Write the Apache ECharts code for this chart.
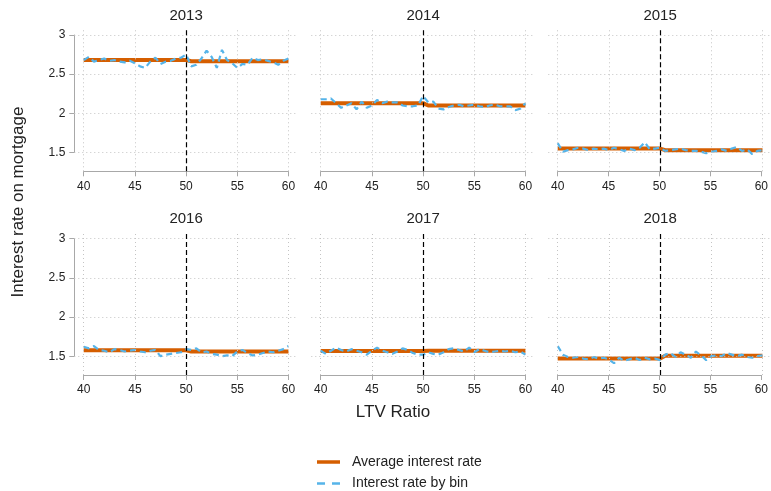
<!DOCTYPE html>
<html>
<head>
<meta charset="utf-8">
<script src="https://cdn.jsdelivr.net/npm/echarts@6/dist/echarts.min.js"></script>
<style>
html,body{margin:0;padding:0;background:#fff;}
#chart{width:771px;height:491px;}
</style>
</head>
<body>
<div id="chart"></div>
<script>
// ---------- data ----------
const years = ['2013', '2014', '2015', '2016', '2017', '2018'];
const bins = [40, 40.5, 41, 41.5, 42, 42.5, 43, 43.5, 44, 44.5, 45, 45.5, 46, 46.5, 47, 47.5, 48, 48.5, 49, 49.5,
              50, 50.5, 51, 51.5, 52, 52.5, 53, 53.5, 54, 54.5, 55, 55.5, 56, 56.5, 57, 57.5, 58, 58.5, 59, 59.5, 60];
const cutoff = 50;
const xTicks = [40, 45, 50, 55, 60];
const yTicks = [1.5, 2, 2.5, 3];
const avgLeft  = [2.68, 2.13, 1.55, 1.575, 1.565, 1.47];
const avgRight = [2.665, 2.10, 1.53, 1.56, 1.57, 1.505];
const rate2013 = [2.68, 2.72, 2.66, 2.68, 2.70, 2.67, 2.68, 2.66, 2.65, 2.67, 2.64, 2.60, 2.58, 2.66, 2.71, 2.63, 2.66, 2.67, 2.70, 2.71,
                  2.75, 2.60, 2.62, 2.70, 2.80, 2.72, 2.58, 2.81, 2.68, 2.64, 2.58, 2.63, 2.62, 2.71, 2.68, 2.69, 2.67, 2.65, 2.62, 2.67, 2.70];
const rate2014 = [2.18, 2.18, 2.19, 2.13, 2.07, 2.10, 2.13, 2.05, 2.15, 2.07, 2.10, 2.17, 2.13, 2.15, 2.14, 2.14, 2.10, 2.09, 2.09, 2.10,
                  2.22, 2.14, 2.15, 2.06, 2.05, 2.08, 2.10, 2.11, 2.09, 2.10, 2.11, 2.09, 2.08, 2.10, 2.11, 2.09, 2.09, 2.09, 2.04, 2.06, 2.13];
const rate2015 = [1.62, 1.51, 1.53, 1.54, 1.56, 1.55, 1.53, 1.55, 1.54, 1.55, 1.53, 1.56, 1.54, 1.52, 1.55, 1.53, 1.56, 1.63, 1.54, 1.55,
                  1.56, 1.52, 1.53, 1.54, 1.55, 1.53, 1.52, 1.52, 1.51, 1.49, 1.51, 1.52, 1.54, 1.52, 1.55, 1.57, 1.52, 1.54, 1.48, 1.52, 1.53];
const rate2016 = [1.62, 1.60, 1.63, 1.58, 1.57, 1.55, 1.59, 1.58, 1.56, 1.57, 1.58, 1.56, 1.55, 1.57, 1.58, 1.50, 1.52, 1.53, 1.54, 1.55,
                  1.59, 1.58, 1.60, 1.55, 1.56, 1.53, 1.52, 1.50, 1.51, 1.50, 1.56, 1.58, 1.54, 1.51, 1.52, 1.54, 1.56, 1.55, 1.57, 1.59, 1.63];
const rate2017 = [1.57, 1.53, 1.57, 1.61, 1.58, 1.56, 1.59, 1.57, 1.55, 1.52, 1.57, 1.61, 1.57, 1.55, 1.53, 1.56, 1.60, 1.58, 1.54, 1.52,
                  1.52, 1.55, 1.53, 1.52, 1.55, 1.59, 1.60, 1.58, 1.56, 1.61, 1.55, 1.59, 1.57, 1.55, 1.56, 1.57, 1.56, 1.57, 1.55, 1.56, 1.52];
const rate2018 = [1.63, 1.52, 1.49, 1.48, 1.49, 1.47, 1.46, 1.49, 1.47, 1.48, 1.46, 1.41, 1.48, 1.44, 1.46, 1.48, 1.45, 1.48, 1.46, 1.47,
                  1.45, 1.52, 1.54, 1.49, 1.55, 1.52, 1.48, 1.56, 1.51, 1.45, 1.50, 1.51, 1.50, 1.54, 1.52, 1.50, 1.52, 1.49, 1.48, 1.50, 1.51];
const rates = [rate2013, rate2014, rate2015, rate2016, rate2017, rate2018];

// ---------- layout ----------
const FONT = "'Liberation Sans', Arial, Helvetica, sans-serif";
const ORANGE = '#D55E00', BLUE = '#56B4E9';
const lefts = [83.7, 320.7, 557.7];
const tops = [35, 238.7];
const W = 204.8, H = 117.5;
const padL = 9.4, padR = 8, padT = 5, padB = 18.8;
const xMin = 40, xMax = 60, yMin = 1.5, yMax = 3;

const grid = [], xAxis = [], yAxis = [], series = [], title = [];
years.forEach((yr, p) => {
  const r = Math.floor(p / 3), c = p % 3;
  const L = lefts[c], T = tops[r];
  const outer = grid.length;
  grid.push({left: L - padL, top: T - padT, width: W + padL + padR, height: H + padT + padB});
  const inner = grid.length;
  grid.push({left: L, top: T, width: W, height: H});
  const xs = (xMax - xMin) / W, ys = (yMax - yMin) / H;
  xAxis.push({type: 'value', gridIndex: outer, min: xMin - padL * xs, max: xMax + padR * xs, show: false});
  yAxis.push({type: 'value', gridIndex: outer, min: yMin - padB * ys, max: yMax + padT * ys, show: false});
  xAxis.push({
    type: 'value', gridIndex: inner, min: xMin, max: xMax, interval: 5, offset: padB,
    axisLine: {show: true, lineStyle: {color: '#a8a8a8', width: 1}},
    axisTick: {show: true, length: 5, lineStyle: {color: '#a8a8a8'}},
    splitLine: {show: false},
    axisLabel: {fontSize: 12, color: '#222', fontFamily: FONT, margin: 9}
  });
  yAxis.push({
    type: 'value', gridIndex: inner, min: yMin, max: yMax, interval: 0.5, offset: padL, show: c === 0,
    axisLine: {show: true, lineStyle: {color: '#a8a8a8', width: 1}},
    axisTick: {show: true, length: 5, lineStyle: {color: '#a8a8a8'}},
    splitLine: {show: false},
    axisLabel: {fontSize: 12, color: '#222', fontFamily: FONT, margin: 9}
  });
  const ax = outer;
  const blueData = bins.map((x, i) => [x, rates[p][i]]);
  const avgData = bins.map(x => [x, x <= cutoff ? avgLeft[p] : avgRight[p]]);
  series.push({
    name: 'grid' + p, type: 'line', xAxisIndex: ax, yAxisIndex: ax, data: blueData,
    symbol: 'none', lineStyle: {opacity: 0, width: 0}, silent: true, z: 1, clip: false,
    markLine: {
      silent: true, symbol: 'none', animation: false, label: {show: false},
      lineStyle: {type: [1, 3], color: '#c4c4c4', width: 1},
      data: [
        ...xTicks.map(v => ({xAxis: v})),
        ...yTicks.map(v => ({yAxis: v})),
        {xAxis: cutoff, lineStyle: {type: [5, 3], color: '#000', width: 1.2}}
      ]
    }
  });
  series.push({
    name: 'Average interest rate', type: 'line', xAxisIndex: ax, yAxisIndex: ax, data: avgData,
    symbol: 'none', clip: false, z: 2, animation: false,
    lineStyle: {color: ORANGE, width: 4}, itemStyle: {color: ORANGE}
  });
  series.push({
    name: 'Interest rate by bin', type: 'line', xAxisIndex: ax, yAxisIndex: ax, data: blueData,
    symbol: 'none', clip: false, z: 3, animation: false,
    lineStyle: {color: BLUE, width: 2.2, type: [6, 4]}, itemStyle: {color: BLUE}
  });
  title.push({
    text: yr, left: L + W / 2, top: T - 27, textAlign: 'center', padding: 0,
    textStyle: {fontSize: 15, fontWeight: 'normal', color: '#222', fontFamily: FONT}
  });
});

const legendText = {fontSize: 14, color: '#222', fontFamily: FONT, padding: [0, 0, 0, 7]};
const chart = echarts.init(document.getElementById('chart'), null, {renderer: 'canvas'});
chart.setOption({
  backgroundColor: '#fff',
  animation: false,
  title: title,
  grid: grid,
  xAxis: xAxis,
  yAxis: yAxis,
  series: series,
  legend: [
    {
      data: ['Average interest rate'], left: 317, top: 455, padding: 0,
      icon: 'rect', itemWidth: 23, itemHeight: 3.5,
      itemStyle: {color: ORANGE}, textStyle: legendText, selectedMode: false
    },
    {
      data: ['Interest rate by bin'], left: 317, top: 476.5, padding: 0,
      icon: 'path://M0,0 H8 V2.5 H0 Z M15,0 H23 V2.5 H15 Z', itemWidth: 23, itemHeight: 2.5,
      itemStyle: {color: BLUE}, textStyle: legendText, selectedMode: false
    }
  ],
  graphic: [
    {type: 'text', x: 18, y: 202, rotation: Math.PI / 2,
     style: {text: 'Interest rate on mortgage', font: '17px ' + FONT, fill: '#222', align: 'center', verticalAlign: 'middle'}},
    {type: 'text', x: 393, y: 412,
     style: {text: 'LTV Ratio', font: '17px ' + FONT, fill: '#222', align: 'center', verticalAlign: 'middle'}}
  ]
});
</script>
</body>
</html>
